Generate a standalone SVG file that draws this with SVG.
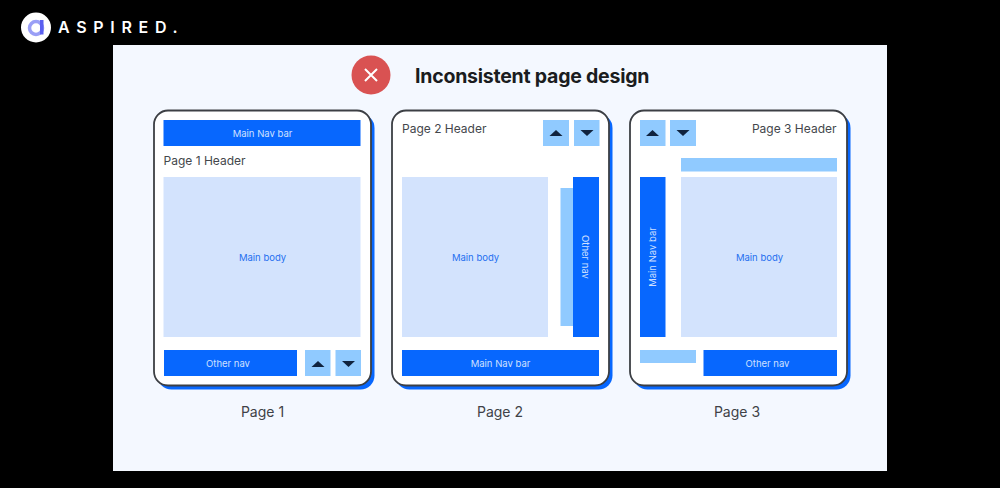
<svg xmlns="http://www.w3.org/2000/svg" width="1000" height="488" viewBox="0 0 1000 488">
<style>
text{font-family:Inter,"Liberation Sans",sans-serif}
.shadow{fill:#0767fe}
.card{fill:#fff;stroke:#3c3f44;stroke-width:1.800}
.dark{fill:#0767fe}
.light{fill:#90caff}
.body{fill:#d3e3fd}
.w{fill:#cfe0ff;font-size:9.500px;text-anchor:middle}
.b{fill:#1f6ff0;font-size:9.500px;text-anchor:middle}
.h{fill:#44474c;font-size:12px}
.p{fill:#3f4247;font-size:14px;text-anchor:middle}
.tri{fill:#10233f}
</style>
<rect width="1000" height="488" fill="#000"/>
<rect x="113" y="45" width="774" height="426" fill="#f4f8ff"/>
<g id="logo">
<circle cx="36" cy="27.500" r="15" fill="#fff"/>
<circle cx="36" cy="28" r="6.500" fill="none" stroke="#9a9ff6" stroke-width="3.500"/>
<rect x="40" y="20" width="3.500" height="14.500" fill="#5a5ff0"/>
<text x="58" y="33" fill="#fff" font-size="16" font-weight="600" letter-spacing="6.700">ASPIRED.</text>
</g>
<g id="title">
<circle cx="371" cy="75" r="19.500" fill="#d95252"/>
<path d="M365 69L377 81M377 69L365 81" stroke="#fff" stroke-width="2" fill="none"/>
<text x="415" y="83" fill="#1a1c20" font-size="19.500" font-weight="700" letter-spacing="-0.230">Inconsistent page design</text>
</g>
<g id="page1">
<rect class="shadow" x="157.500" y="114" width="217" height="275.500" rx="14"/>
<rect class="card" x="154" y="110.500" width="217" height="275" rx="14"/>
<rect class="dark" x="163.500" y="120" width="197" height="26"/>
<text class="w" x="262.500" y="137">Main Nav bar</text>
<text class="h" x="163.500" y="164.500">Page 1 Header</text>
<rect class="body" x="163.500" y="177" width="197" height="160"/>
<text class="b" x="262.500" y="261">Main body</text>
<rect class="dark" x="164" y="350" width="133" height="26"/>
<text class="w" x="228" y="367">Other nav</text>
<rect class="light" x="305" y="350" width="25.500" height="26"/>
<path class="tri" d="M311.500 367L318 361L324.500 367Z"/>
<rect class="light" x="335.500" y="350" width="25.500" height="26"/>
<path class="tri" d="M342 361L355 361L348.500 367Z"/>
<text class="p" x="262.500" y="416.500">Page 1</text>
</g>
<g id="page2">
<rect class="shadow" x="395.500" y="114" width="217" height="275.500" rx="14"/>
<rect class="card" x="392" y="110.500" width="217" height="275" rx="14"/>
<text class="h" x="402" y="132.500">Page 2 Header</text>
<rect class="light" x="543" y="120" width="26" height="26"/>
<path class="tri" d="M549.500 136L556 130L562.500 136Z"/>
<rect class="light" x="574" y="120" width="25.500" height="26"/>
<path class="tri" d="M580.500 130L593.500 130L587 136Z"/>
<rect class="body" x="402" y="177" width="146" height="160"/>
<text class="b" x="475.500" y="261">Main body</text>
<rect class="light" x="560.500" y="188" width="13" height="138"/>
<rect class="dark" x="573" y="177" width="26" height="160"/>
<text class="w" transform="translate(582 257) rotate(90)" x="0" y="0">Other nav</text>
<rect class="dark" x="402" y="350" width="197" height="26"/>
<text class="w" x="500.500" y="367">Main Nav bar</text>
<text class="p" x="500" y="416.500">Page 2</text>
</g>
<g id="page3">
<rect class="shadow" x="633.500" y="114" width="217" height="275.500" rx="14"/>
<rect class="card" x="630" y="110.500" width="217" height="275" rx="14"/>
<rect class="light" x="640" y="120" width="25.500" height="26"/>
<path class="tri" d="M646 136L652.500 130L659 136Z"/>
<rect class="light" x="670" y="120" width="26" height="26"/>
<path class="tri" d="M676.500 130L689.500 130L683 136Z"/>
<text class="h" x="836.500" y="132.500" text-anchor="end">Page 3 Header</text>
<rect class="light" x="681" y="158" width="156" height="13.500"/>
<rect class="dark" x="640" y="177" width="25.500" height="160"/>
<text class="w" transform="translate(656 257) rotate(-90)" x="0" y="0">Main Nav bar</text>
<rect class="body" x="681" y="177" width="156" height="160"/>
<text class="b" x="759.500" y="261">Main body</text>
<rect class="light" x="640" y="350" width="56" height="13"/>
<rect class="dark" x="703.500" y="350" width="133.500" height="26"/>
<text class="w" x="767.500" y="367">Other nav</text>
<text class="p" x="737" y="416.500">Page 3</text>
</g>
</svg>
